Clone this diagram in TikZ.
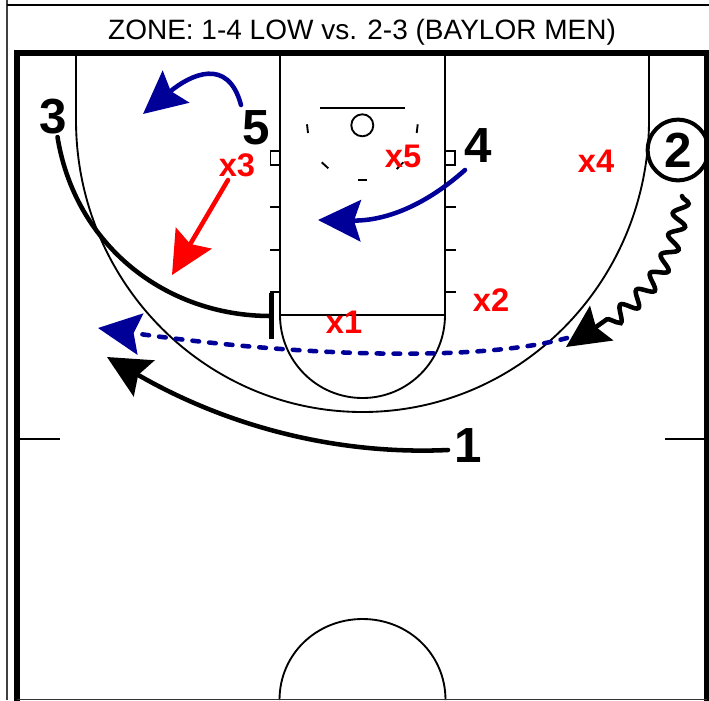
\documentclass[tikz,border=0pt]{standalone}
\usepackage{fontspec}
\setmainfont{Liberation Sans}
\usetikzlibrary{decorations.pathmorphing,arrows.meta}
\definecolor{passblue}{RGB}{0,0,153}
\tikzset{
 x=0.75pt,y=-0.75pt,
 court/.style={draw=black,line width=1.4pt},
 frameline/.style={draw=black,line width=4.6pt},
 pageline/.style={draw=black!75,line width=0.8pt},
 bighead/.style={-{Stealth[length=32pt,width=31pt,inset=5pt]}},
 cutpath/.style={draw=black,line width=3.4pt,line cap=round},
 passpath/.style={draw=passblue,line width=3.4pt,line cap=round,bighead},
 runpath/.style={draw=black,line width=3.4pt,line cap=round,bighead},
 guardpath/.style={draw=red,line width=3.4pt,line cap=round,bighead},
 player/.style={font=\bfseries\fontsize{37}{37}\selectfont,text=black,inner sep=0pt},
 defender/.style={font=\bfseries\fontsize{24.5}{24.5}\selectfont,text=red,inner sep=0pt},
}
\begin{document}
\begin{tikzpicture}
\useasboundingbox (0,0) rectangle (709,700);
% page lines
\draw[pageline] (7,0) -- (7,700);
\draw[pageline,draw=black] (7,5) -- (709,5);
\node[inner sep=0pt,font=\fontsize{21}{24}\selectfont] (title) at (362,32) {ZONE: 1-4 LOW vs. 2-3 (BAYLOR MEN)};
% three-point line
\draw[court] (76,56) -- (76,120) .. controls (76,281.3) and (204.3,412) .. (362.5,412) .. controls (520.7,412) and (649,281.3) .. (649,120) -- (649,56);
% lane and free-throw circle
\draw[court] (280,56) -- (280,315) -- (445,315) -- (445,56);
\draw[court] (280,315) .. controls (280,360.8) and (316.7,398) .. (362.5,398) .. controls (408.3,398) and (445,360.8) .. (445,315);
% centre circle
\draw[court] (279.5,700) .. controls (279.5,654) and (316.7,619) .. (362.5,619) .. controls (408.3,619) and (445.5,654) .. (445.5,700);
% half-court ticks
\draw[court] (20,439) -- (60,439);
\draw[court] (665,439) -- (705,439);
% lane blocks and ticks
\draw[court] (270.5,151) rectangle (280,165);
\draw[court] (445,151) rectangle (455,165);
\foreach \ty in {207,250,292}{
  \draw[court] (270,\ty) -- (280,\ty);
  \draw[court] (445,\ty) -- (456,\ty);
}
% backboard and rim
\draw[court] (320,108) -- (405,108);
\draw[court] (362.3,125.3) circle[radius=8.25pt];
% restricted arc marks
\draw[court] (307,124.3) -- (308,133);
\draw[court] (417.7,124.3) -- (416.7,133);
\draw[court] (321.7,162.3) -- (328.3,168.3);
\draw[court] (358.3,180) -- (366.7,180);
\draw[court] (396.7,169) -- (403.3,162.3);
% frame
\draw[frameline] (17.3,702) -- (17.3,53) -- (707.5,53) -- (707.5,702);
\draw[draw=black!80,line width=1.2pt] (17,699.5) -- (707,699.5);
% players
\node[player] (p3) at (53,117) {3};
\node[player] (p5) at (256,128) {5};
\node[player] (p4) at (478,146) {4};
\node[player] (p1) at (468,446) {1};
\node[player,draw=black,line width=3pt,circle,minimum size=45.5pt,inner sep=0pt] (p2) at (678,150) {2};
% defenders
\node[defender] (x3) at (237,165) {x3};
\node[defender] (x5) at (403,156) {x5};
\node[defender] (x4) at (596,161) {x4};
\node[defender] (x2) at (491,300) {x2};
\node[defender] (x1) at (344,322) {x1};
% connector ends
\coordinate (c5s) at (241,105);
\coordinate (c5e) at (143,114);
\coordinate (c4s) at (465,170);
\coordinate (c4e) at (318,220);
\coordinate (c3s) at (57.5,137);
\coordinate (c3e) at (274,316);
\coordinate (c1s) at (448,450);
\coordinate (c1e) at (107,357);
\coordinate (c2s) at (682,196);
\coordinate (c2e) at (566,347);
\coordinate (cps) at (567,338);
\coordinate (cpe) at (98,328);
\coordinate (cxs) at (228,180);
\coordinate (cxe) at (172,275);
% connectors
\draw[guardpath] (cxs) -- (cxe);
\draw[passpath] (c5s) .. controls (228,56) and (190,75) .. (c5e);
\draw[passpath] (c4s) .. controls (420,210) and (380,221) .. (c4e);
\draw[passpath,dash pattern=on 5pt off 7.6pt] (cps) .. controls (480,362) and (300,357) .. (cpe);
\draw[runpath] (c1s) .. controls (340,455) and (230,428) .. (c1e);
\draw[cutpath,-{Bar[width=35pt,line width=3.4pt]}] (c3s) .. controls (75,245) and (165,316) .. (c3e);
\draw[runpath,decorate,decoration={snake,segment length=17pt,amplitude=5.5pt,post=lineto,post length=30pt}] (c2s) .. controls (675,270) and (640,299) .. (c2e);
\end{tikzpicture}
\end{document}
